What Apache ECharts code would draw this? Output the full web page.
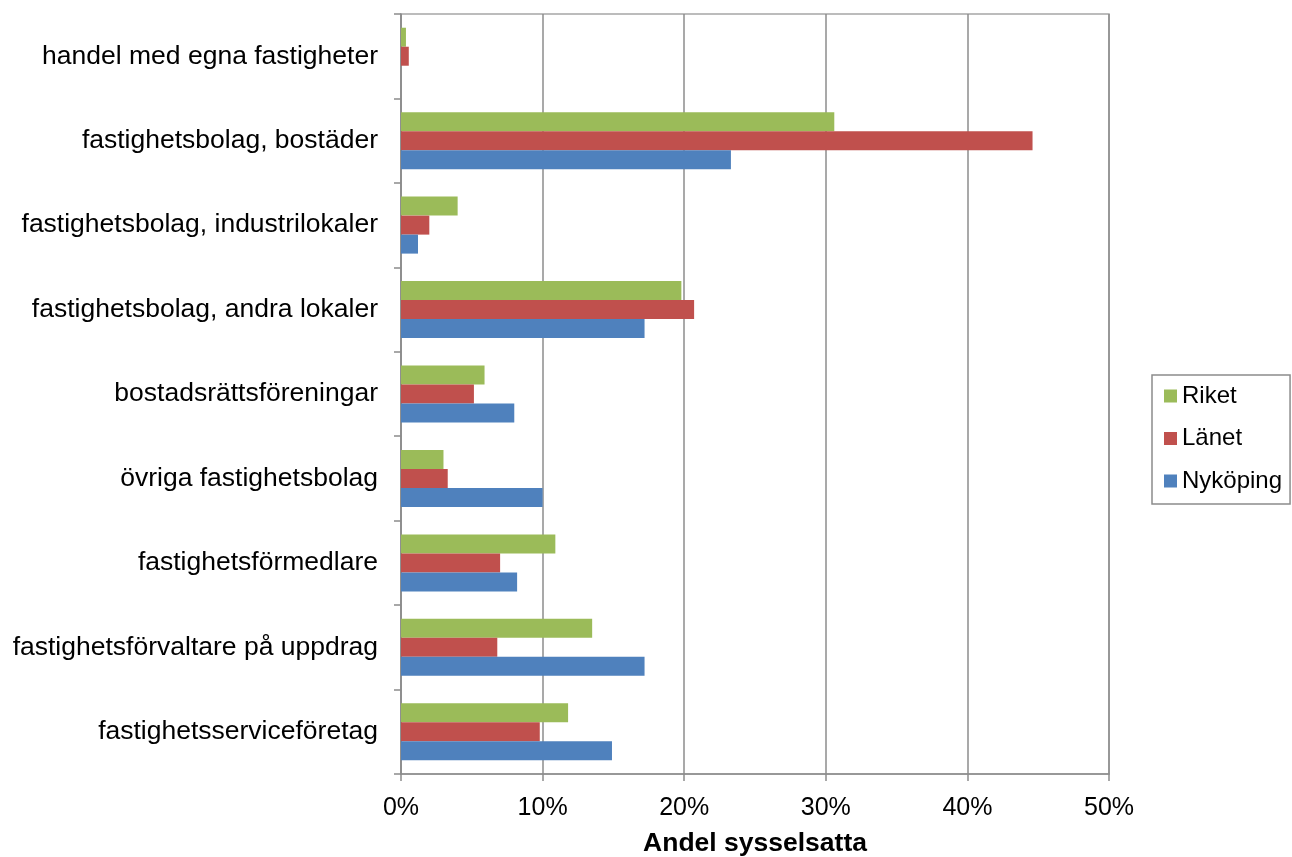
<!DOCTYPE html>
<html>
<head>
<meta charset="utf-8">
<script src="https://cdn.jsdelivr.net/npm/echarts@6/dist/echarts.min.js"></script>
<style>
html,body{margin:0;padding:0;background:#fff;}
#chart{width:1292px;height:857px;}
</style>
</head>
<body>
<div id="chart"></div>
<script>
const categories = [
  "handel med egna fastigheter",
  "fastighetsbolag, bostäder",
  "fastighetsbolag, industrilokaler",
  "fastighetsbolag, andra lokaler",
  "bostadsrättsföreningar",
  "övriga fastighetsbolag",
  "fastighetsförmedlare",
  "fastighetsförvaltare på uppdrag",
  "fastighetsserviceföretag"
];
const riket    = [0.35, 30.6, 4.0, 19.8, 5.9, 3.0, 10.9, 13.5, 11.8];
const lanet    = [0.55, 44.6, 2.0, 20.7, 5.15, 3.3, 7.0, 6.8, 9.8];
const nykoping = [0.0, 23.3, 1.2, 17.2, 8.0, 10.0, 8.2, 17.2, 14.9];
const xTicks = [0, 10, 20, 30, 40, 50];

const font = '"Liberation Sans", Arial, sans-serif';
const chart = echarts.init(document.getElementById('chart'), null, {renderer: 'canvas'});
chart.setOption({
  animation: false,
  backgroundColor: '#ffffff',
  grid: {
    left: 401, right: 183, top: 14, bottom: 83,
    show: true, borderColor: '#a6a6a6', borderWidth: 1.5,
    containLabel: false, outerBoundsMode: 'none'
  },
  legend: {
    orient: 'vertical',
    left: 1152, top: 375,
    padding: [9, 8, 11, 12],
    itemGap: 18.5,
    itemWidth: 13, itemHeight: 13,
    icon: 'rect',
    borderColor: '#8c8c8c', borderWidth: 1.5,
    textStyle: {fontFamily: font, fontSize: 24, color: '#000'},
    data: ['Riket', 'Länet', 'Nyköping']
  },
  xAxis: {
    type: 'value',
    min: xTicks[0], max: xTicks[xTicks.length - 1], interval: 10,
    name: 'Andel sysselsatta',
    nameLocation: 'middle',
    nameGap: 56,
    nameTextStyle: {fontFamily: font, fontSize: 26.5, fontWeight: 'bold', color: '#000'},
    axisLine: {show: true, lineStyle: {color: '#8c8c8c', width: 1.5}},
    axisTick: {show: true, length: 7, lineStyle: {color: '#8c8c8c', width: 1.5}},
    axisLabel: {fontFamily: font, fontSize: 25, color: '#000', margin: 22, formatter: v => v + '%'},
    splitLine: {show: true, lineStyle: {color: '#8c8c8c', width: 1.5}}
  },
  yAxis: {
    type: 'category',
    inverse: true,
    data: categories,
    axisLine: {show: true, lineStyle: {color: '#8c8c8c', width: 1.5}},
    axisTick: {show: true, length: 7, lineStyle: {color: '#8c8c8c', width: 1.5}},
    axisLabel: {fontFamily: font, fontSize: 26.5, color: '#000', margin: 23},
    splitLine: {show: false}
  },
  series: [
    {name: 'Riket', type: 'bar', data: riket, barWidth: 19, barGap: '0%', itemStyle: {color: '#9bbb59'}},
    {name: 'Länet', type: 'bar', data: lanet, barWidth: 19, barGap: '0%', itemStyle: {color: '#c0504d'}},
    {name: 'Nyköping', type: 'bar', data: nykoping, barWidth: 19, barGap: '0%', itemStyle: {color: '#4f81bd'}}
  ]
});
</script>
</body>
</html>
